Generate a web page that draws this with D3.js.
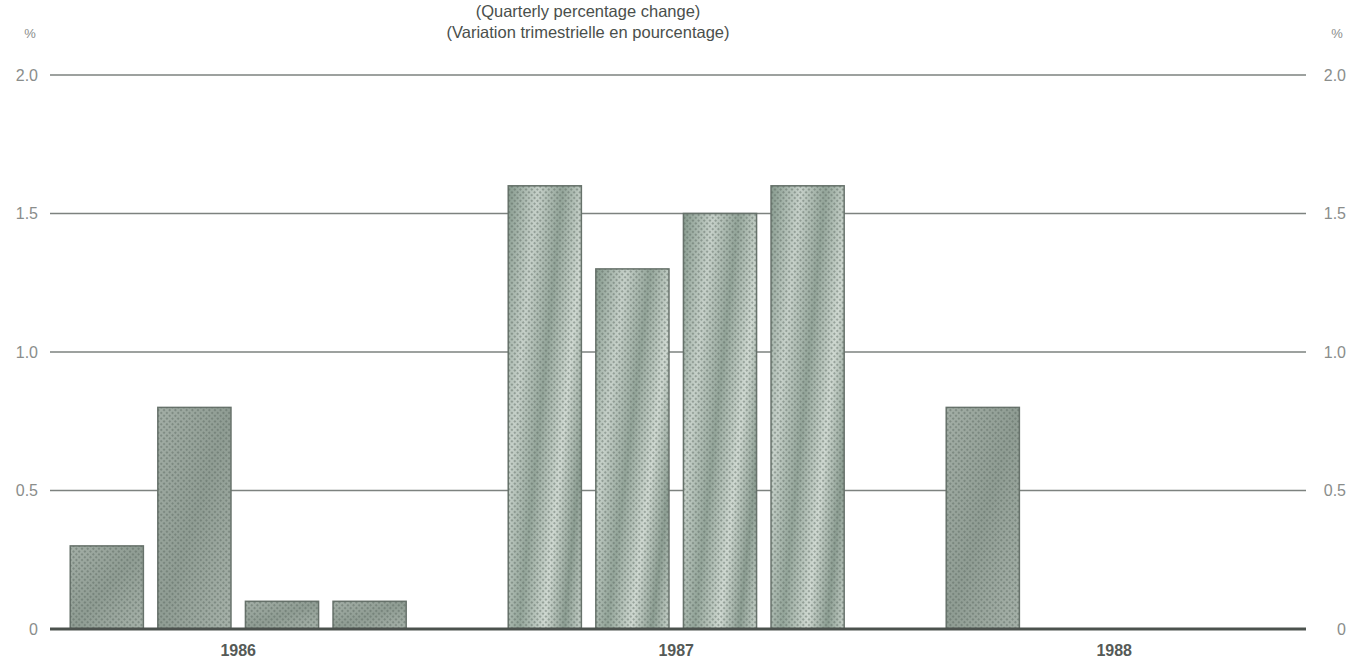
<!DOCTYPE html>
<html>
<head>
<meta charset="utf-8">
<script src="https://cdn.jsdelivr.net/npm/d3@7"></script>
<style>
  body { margin: 0; background: #fff; }
  text { font-family: "Liberation Sans", Arial, sans-serif; }
</style>
</head>
<body>
<svg id="chart" width="1350" height="661"></svg>
<script>
// data
var years = ["1986", "1987", "1988"];
var quarters = ["Q1", "Q2", "Q3", "Q4"];
var values1986 = [0.3, 0.8, 0.1, 0.1];
var values1987 = [1.6, 1.3, 1.5, 1.6];
var values1988 = [0.8];
var yTicks = [0, 0.5, 1.0, 1.5, 2.0];
var yTickLabels = ["0", "0.5", "1.0", "1.5", "2.0"];
var titleLines = ["(Quarterly percentage change)", "(Variation trimestrielle en pourcentage)"];

var svg = d3.select("#chart"),
    width = +svg.attr("width"),
    height = +svg.attr("height");

var left = 50, right = 1306;

// each year takes 4 quarter slots + 1 empty slot
var slots = [];
years.forEach(function(y, i) {
    quarters.forEach(function(q) { slots.push(y + "-" + q); });
    if (i < years.length - 1) slots.push(y + "-gap");
});

var x = d3.scaleBand()
    .domain(slots)
    .range([63, 63 + slots.length * 87.6])
    .paddingInner(0.165)
    .paddingOuter(0.0825);

var y = d3.scaleLinear().domain([0, 2]).range([629, 75]);

var bars = [];
[values1986, values1987, values1988].forEach(function(vals, i) {
    vals.forEach(function(v, j) {
        bars.push({year: years[i], key: years[i] + "-" + quarters[j], value: v});
    });
});

// fills: halftone dots, with streaky gradient for 1987
var defs = svg.append("defs");
var dots = defs.append("pattern").attr("id", "dots")
    .attr("width", 4).attr("height", 4)
    .attr("patternUnits", "userSpaceOnUse")
    .attr("patternTransform", "rotate(45)");
dots.append("circle").attr("cx", 2).attr("cy", 2).attr("r", 1.1).attr("fill", "#55635a").attr("opacity", 0.55);

var grad = defs.append("linearGradient").attr("id", "streak")
    .attr("x1", "0%").attr("y1", "0%").attr("x2", "100%").attr("y2", "60%")
    .attr("spreadMethod", "reflect");
[["0%", "#879a8e"], ["30%", "#c6d0c9"], ["55%", "#93a499"], ["80%", "#cfd8d1"], ["100%", "#8c9d92"]]
    .forEach(function(s) { grad.append("stop").attr("offset", s[0]).attr("stop-color", s[1]); });

var grad2 = defs.append("linearGradient").attr("id", "plain")
    .attr("x1", "0%").attr("y1", "0%").attr("x2", "100%").attr("y2", "100%");
[["0%", "#a3aea6"], ["50%", "#8f9c93"], ["100%", "#a6b1a9"]]
    .forEach(function(s) { grad2.append("stop").attr("offset", s[0]).attr("stop-color", s[1]); });

// grid lines
svg.append("g").selectAll("line")
    .data(yTicks.filter(function(d) { return d > 0; }))
    .enter().append("line")
    .attr("x1", left).attr("x2", right)
    .attr("y1", function(d) { return y(d); })
    .attr("y2", function(d) { return y(d); })
    .attr("stroke", "#7d827f").attr("stroke-width", 1.6);

// bars
var g = svg.append("g");
g.selectAll(".bar")
    .data(bars).enter().append("rect")
    .attr("x", function(d) { return x(d.key); })
    .attr("y", function(d) { return y(d.value); })
    .attr("width", x.bandwidth())
    .attr("height", function(d) { return y(0) - y(d.value); })
    .attr("fill", function(d) { return d.year == "1987" ? "url(#streak)" : "url(#plain)"; })
    .attr("stroke", "#67726b").attr("stroke-width", 1.5);
g.selectAll(".dots")
    .data(bars).enter().append("rect")
    .attr("x", function(d) { return x(d.key); })
    .attr("y", function(d) { return y(d.value); })
    .attr("width", x.bandwidth())
    .attr("height", function(d) { return y(0) - y(d.value); })
    .attr("fill", "url(#dots)");

// zero line
svg.append("line")
    .attr("x1", left).attr("x2", right)
    .attr("y1", y(0)).attr("y2", y(0))
    .attr("stroke", "#4c524e").attr("stroke-width", 3);

// axis labels left and right
var leftAxis = d3.axisLeft(y).tickValues(yTicks).tickSize(0).tickPadding(0)
    .tickFormat(function(d, i) { return yTickLabels[i]; });
var rightAxis = d3.axisRight(y).tickValues(yTicks).tickSize(0).tickPadding(0)
    .tickFormat(function(d, i) { return yTickLabels[i]; });

var la = svg.append("g").attr("transform", "translate(38,0)").call(leftAxis);
var ra = svg.append("g").attr("transform", "translate(1346,0)").call(rightAxis);
ra.selectAll("text").attr("text-anchor", "end");
[la, ra].forEach(function(a) {
    a.select(".domain").remove();
    a.selectAll("text").attr("font-size", 16).attr("fill", "#8a8d8b")
        .attr("font-family", "'Liberation Sans', Arial, sans-serif");
});

svg.append("text").attr("x", 30).attr("y", 38).attr("text-anchor", "middle")
    .attr("font-size", 13).attr("fill", "#8a8d8b").text("%");
svg.append("text").attr("x", 1337).attr("y", 38).attr("text-anchor", "middle")
    .attr("font-size", 13).attr("fill", "#8a8d8b").text("%");

// titles
svg.selectAll(".title").data(titleLines).enter().append("text")
    .attr("x", 588).attr("y", function(d, i) { return 17 + i * 21; })
    .attr("text-anchor", "middle").attr("font-size", 16.5).attr("fill", "#4a4f4c")
    .text(function(d) { return d; });

// year labels
svg.selectAll(".year").data(years).enter().append("text")
    .attr("x", function(d) { return (x(d + "-Q1") + x(d + "-Q4") + x.bandwidth()) / 2; })
    .attr("y", 656)
    .attr("text-anchor", "middle").attr("font-size", 16).attr("font-weight", "bold")
    .attr("fill", "#555a57")
    .text(function(d) { return d; });
</script>
</body>
</html>
